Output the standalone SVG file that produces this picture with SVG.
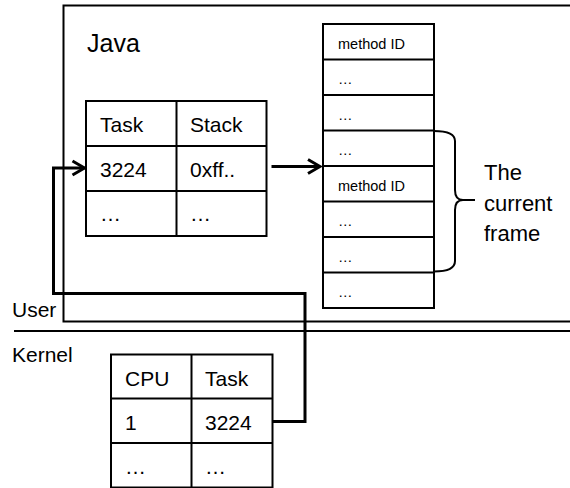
<svg xmlns="http://www.w3.org/2000/svg" width="570" height="488" viewBox="0 0 570 488">
<style>
text{font-family:"Liberation Sans",Arial,sans-serif;fill:#000}
.big{font-size:25px}
.lbl{font-size:21px}
.cell{font-size:21px}
.sm{font-size:14.5px}
.thin{fill:none;stroke:#000;stroke-width:2}
.conn{fill:none;stroke:#000;stroke-width:3}
</style>
<defs>
<marker id="arr" viewBox="0 0 16 18" refX="14" refY="9" markerWidth="16" markerHeight="18" markerUnits="userSpaceOnUse" orient="auto">
<path d="M2,2 L14,9 L2,16" fill="none" stroke="#000" stroke-width="3"/>
</marker>
</defs>
<rect width="570" height="488" fill="#fff"/>
<g id="java">
<path class="thin" d="M575,5.5 H63.5 V321.5 H575"/>
<text class="big" x="87" y="52">Java</text>
</g>
<g id="separator">
<path class="thin" d="M14,331 H575"/>
<text class="lbl" x="12" y="317">User</text>
<text class="lbl" x="12" y="362">Kernel</text>
</g>
<g id="task-table">
<rect class="thin" x="86" y="101" width="180.5" height="135"/>
<path class="thin" d="M176.5,101 V236 M86,146 H266.5 M86,191 H266.5"/>
<text class="cell" x="100" y="132">Task</text>
<text class="cell" x="190" y="132">Stack</text>
<text class="cell" x="100" y="177">3224</text>
<text class="cell" x="190" y="177">0xff..</text>
<text class="cell" x="100" y="221">…</text>
<text class="cell" x="190" y="221">…</text>
</g>
<g id="stack">
<rect class="thin" x="323" y="24" width="111" height="284"/>
<path class="thin" d="M323,59.5 H434 M323,95 H434 M323,130.5 H434 M323,166 H434 M323,201.5 H434 M323,237 H434 M323,272.5 H434"/>
<text class="sm" x="338" y="49">method ID</text>
<text class="sm" x="338" y="84">…</text>
<text class="sm" x="338" y="120">…</text>
<text class="sm" x="338" y="155">…</text>
<text class="sm" x="338" y="191">method ID</text>
<text class="sm" x="338" y="226">…</text>
<text class="sm" x="338" y="262">…</text>
<text class="sm" x="338" y="297">…</text>
</g>
<g id="frame-brace">
<path class="thin" d="M434,131 Q455,131 455,141 V190 Q455,200 463,200 H475 M463,200 Q455,200 455,210 V261 Q455,271.5 434,271.5"/>
<text class="lbl" x="484" y="180" style="font-size:22px">The</text>
<text class="lbl" x="484" y="211" style="font-size:22px">current</text>
<text class="lbl" x="484" y="241" style="font-size:22px">frame</text>
</g>
<g id="kernel-table">
<rect class="thin" x="111" y="354.5" width="161.5" height="133"/>
<path class="thin" d="M191.5,354.5 V487.5 M111,398.5 H272.5 M111,443 H272.5"/>
<text class="cell" x="125" y="386">CPU</text>
<text class="cell" x="205" y="386">Task</text>
<text class="cell" x="125" y="430">1</text>
<text class="cell" x="205" y="430">3224</text>
<text class="cell" x="125" y="474">…</text>
<text class="cell" x="205" y="474">…</text>
</g>
<g id="connectors">
<path class="conn" d="M271.5,166.5 H320" marker-end="url(#arr)"/>
<path class="conn" d="M273,421.5 H305 V293.5 H53.5 V168 H84.5" marker-end="url(#arr)"/>
</g>
</svg>
